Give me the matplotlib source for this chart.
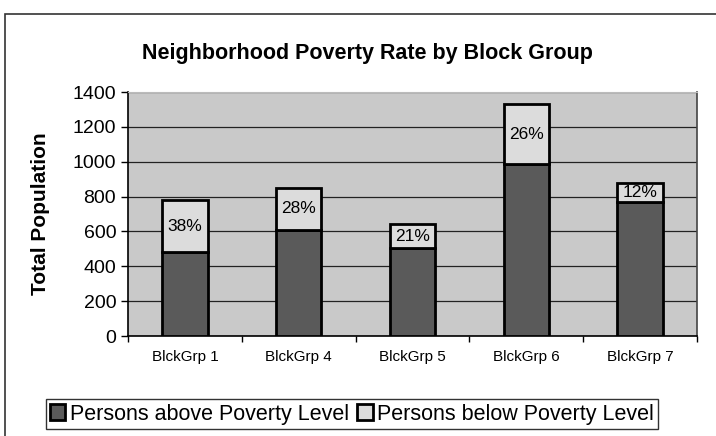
import matplotlib.pyplot as plt
from matplotlib.patches import Rectangle

# block groups and population counts
groups = ["BlckGrp 1", "BlckGrp 4", "BlckGrp 5", "BlckGrp 6", "BlckGrp 7"]
above = [480, 610, 505, 985, 770]
below = [300, 240, 135, 345, 105]
pct_labels = ["38%", "28%", "21%", "26%", "12%"]

plt.rcParams['font.family'] = ['Liberation Sans', 'DejaVu Sans']

fig = plt.figure(figsize=(7.16, 4.36), dpi=100)
fig.patch.set_facecolor("white")

# outer chart frame (cut off at right and bottom like the scan)
fig.patches.append(Rectangle((5 / 716, -0.02), 1.0, (436 - 14) / 436 + 0.02,
                             transform=fig.transFigure, fill=False,
                             edgecolor="#333333", linewidth=1.2))

ax = fig.add_axes([128 / 716, 100 / 436, 569 / 716, 244 / 436])
ax.set_facecolor("#c9c9c9")

x = range(len(groups))
ax.bar(x, above, width=0.4, color="#5a5a5a", edgecolor="black", linewidth=2,
       label="Persons above Poverty Level", zorder=3)
ax.bar(x, below, width=0.4, bottom=above, color="#dcdcdc", edgecolor="black",
       linewidth=2, label="Persons below Poverty Level", zorder=3)

for i in x:
    ax.text(i, above[i] + below[i] / 2, pct_labels[i], ha="center", va="center",
            fontsize=12.5, zorder=4)

ax.set_xlim(-0.5, 4.5)
ax.set_ylim(0, 1400)
ax.set_yticks(range(0, 1401, 200))
ax.yaxis.grid(True, color="#222222", linewidth=0.9, zorder=1)
ax.tick_params(axis="y", labelsize=14, length=5, direction="out", width=1)

# category labels centred, tick marks on the boundaries
ax.set_xticks(list(x))
ax.set_xticklabels(groups, fontsize=11)
ax.tick_params(axis="x", length=0, pad=10)
ax.set_xticks([i + 0.5 for i in range(-1, len(groups))], minor=True)
ax.tick_params(axis="x", which="minor", length=4, direction="out", width=1)

for s in ["left", "bottom"]:
    ax.spines[s].set_color("black")
    ax.spines[s].set_linewidth(1.2)
ax.spines["top"].set_color("#bbbbbb")
ax.spines["right"].set_color("#444444")
ax.spines["right"].set_linewidth(1.2)

ax.set_ylabel("Total Population", fontsize=15, fontweight="bold")
ax.yaxis.set_label_coords((50 - 128) / 569, 0.5)
fig.text(367 / 716, 1 - 53 / 436, "Neighborhood Poverty Rate by Block Group",
         ha="center", va="center", fontsize=15.5, fontweight="bold")

fig.legend(loc="center", bbox_to_anchor=(352 / 716, 1 - 414 / 436), ncol=2,
           fontsize=15.5, frameon=True, fancybox=False, edgecolor="black",
           handlelength=0.7, handleheight=0.7, handletextpad=0.2,
           columnspacing=0.4, borderpad=0.2, borderaxespad=0)

fig.savefig("out.png", dpi=100)
